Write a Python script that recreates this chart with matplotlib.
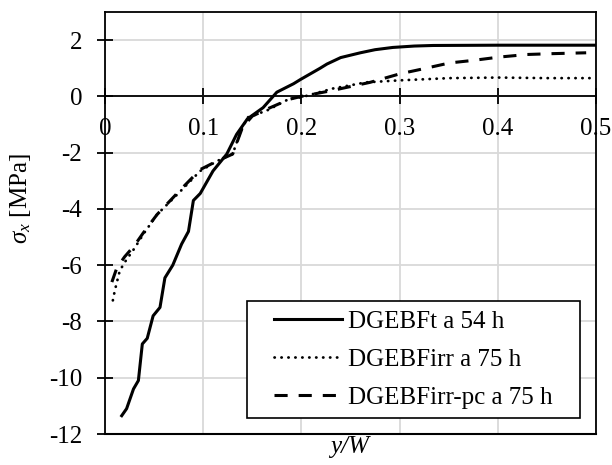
import numpy as np
import matplotlib.pyplot as plt
from matplotlib.legend_handler import HandlerLine2D

plt.rcParams['font.family'] = 'Liberation Serif'
plt.rcParams['mathtext.fontset'] = 'custom'
plt.rcParams['mathtext.rm'] = 'Liberation Serif'
plt.rcParams['mathtext.it'] = 'Liberation Serif:italic'
plt.rcParams['axes.unicode_minus'] = False

# DGEBFt a 54 h
x_t = [0.017, 0.022, 0.029, 0.034, 0.038, 0.043, 0.049, 0.056, 0.061, 0.069,
       0.078, 0.085, 0.090, 0.097, 0.110, 0.124, 0.134, 0.145, 0.161, 0.175,
       0.192, 0.199, 0.219, 0.226, 0.24, 0.26, 0.275, 0.293, 0.315, 0.334,
       0.4, 0.45, 0.5]
y_t = [-11.35, -11.1, -10.4, -10.1, -8.8, -8.6, -7.8, -7.5, -6.45, -6.0,
       -5.25, -4.8, -3.7, -3.45, -2.65, -2.05, -1.35, -0.8, -0.4, 0.15,
       0.45, 0.6, 1.0, 1.15, 1.38, 1.55, 1.66, 1.74, 1.79, 1.81,
       1.82, 1.82, 1.82]

# DGEBFirr a 75 h
x_irr = [0.008, 0.010, 0.015, 0.02, 0.03, 0.039, 0.053, 0.076, 0.097, 0.114,
         0.13, 0.137, 0.145, 0.165, 0.188, 0.2, 0.232, 0.266, 0.3, 0.351,
         0.4, 0.45, 0.5]
y_irr = [-7.25, -6.9, -6.2, -5.9, -5.4, -4.9, -4.2, -3.4, -2.65, -2.3,
         -2.05, -1.35, -0.75, -0.5, -0.08, -0.03, 0.28, 0.5, 0.57, 0.65,
         0.67, 0.65, 0.65]

# DGEBFirr-pc a 75 h
x_pc = [0.007, 0.012, 0.02, 0.03, 0.039, 0.053, 0.076, 0.097, 0.114, 0.13,
        0.14, 0.15, 0.165, 0.188, 0.2, 0.23, 0.27, 0.3, 0.324, 0.351,
        0.375, 0.402, 0.43, 0.456, 0.49]
y_pc = [-6.6, -6.1, -5.7, -5.3, -4.85, -4.2, -3.35, -2.6, -2.3, -2.05,
        -1.1, -0.7, -0.45, -0.1, 0.0, 0.2, 0.5, 0.8, 0.98, 1.19,
        1.28, 1.4, 1.49, 1.52, 1.55]

fig = plt.figure(figsize=(6.12, 4.65), dpi=100)
ax = fig.add_axes([105 / 612, 1 - 434 / 465, 491 / 612, 422 / 465])

l1, = ax.plot(x_t, y_t, color='k', lw=2.2, label='DGEBFt a 54 h')
l2, = ax.plot(x_irr, y_irr, color='k', lw=2.0, linestyle=(0, (0.1, 2.4)),
              dash_capstyle='round', label='DGEBFirr a 75 h')
l3, = ax.plot(x_pc, y_pc, color='k', lw=2.2, linestyle=(0, (4.3, 3.6)),
              label='DGEBFirr-pc a 75 h')

ax.set_xlim(0, 0.5)
ax.set_ylim(-12, 3)
ax.set_xticks([0, 0.1, 0.2, 0.3, 0.4, 0.5])
ax.set_xticklabels(['0', '0.1', '0.2', '0.3', '0.4', '0.5'])
ax.set_yticks(np.arange(-12, 3, 2))

ax.grid(True, color='#d9d9d9', lw=1.3)
ax.set_axisbelow(True)

for s in ax.spines.values():
    s.set_linewidth(1.3)
    s.set_color('k')
ax.spines['bottom'].set_position(('data', 0))
ax.plot([0, 1], [0, 0], transform=ax.transAxes, color='k', lw=1.5, clip_on=False)

ax.tick_params(axis='both', direction='inout', length=11, width=1.3,
               labelsize=18, colors='k')
ax.tick_params(axis='x', pad=10)
ax.tick_params(axis='y', pad=11)

ax.set_ylabel(r'$\sigma_x$ [MPa]', fontsize=18)
ax.yaxis.set_label_coords(-0.147, 0.559)
fig.text(350 / 612, 1 - 447 / 465, 'y/W', style='italic', fontsize=18,
         ha='center', va='center')

hm = {l: HandlerLine2D(xpad=0.75) for l in (l1, l2, l3)}
leg = ax.legend(handler_map=hm, loc='lower left',
                bbox_to_anchor=(0.289, 0.038, 0.678, 0.2), mode='expand',
                borderaxespad=0, fontsize=18, handlelength=3.45,
                fancybox=False, framealpha=1, edgecolor='k',
                labelspacing=0.63, handletextpad=0.25, borderpad=0.35)
leg.get_frame().set_linewidth(1.2)

fig.savefig('out.png', dpi=100)
